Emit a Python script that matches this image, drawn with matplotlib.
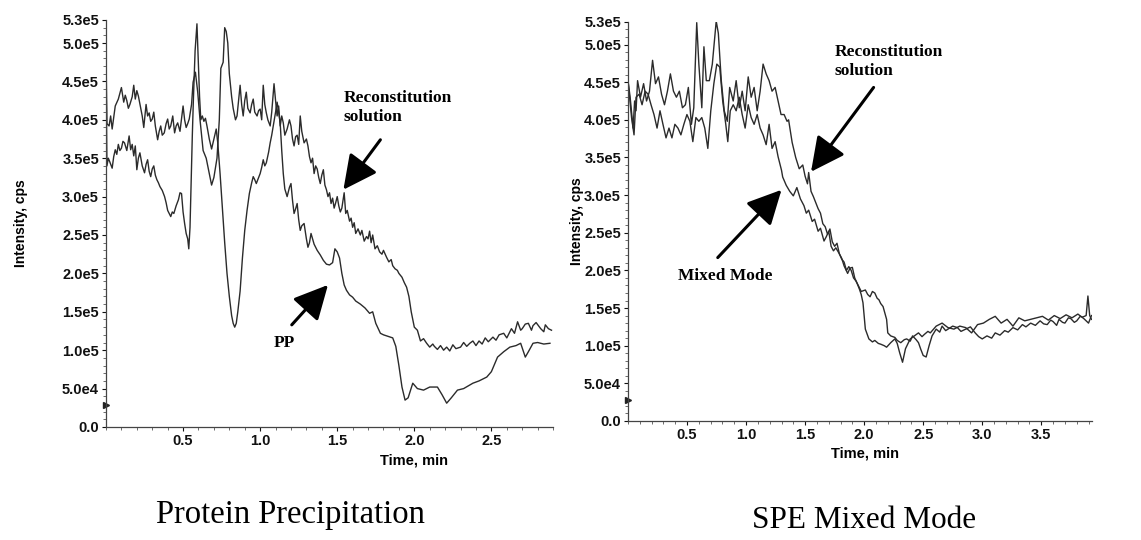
import matplotlib
matplotlib.use('Agg')
import matplotlib.pyplot as plt
import numpy as np
from matplotlib.ticker import FuncFormatter, MultipleLocator

# ---- left panel: protein precipitation (time in min, intensity in kcps) ----
pp_recon_t = [0.000, 0.006, 0.02, 0.03, 0.04, 0.06, 0.08, 0.10, 0.115, 0.125, 0.135, 0.145, 0.155, 0.17, 0.18,
              0.19, 0.20, 0.21, 0.225, 0.235, 0.245, 0.26, 0.27, 0.28, 0.29, 0.30, 0.31, 0.32, 0.335, 0.345,
              0.355, 0.365, 0.378, 0.39, 0.40, 0.41, 0.42, 0.433, 0.445, 0.455, 0.465, 0.48, 0.50, 0.51, 0.52,
              0.53, 0.54, 0.555, 0.565, 0.58, 0.595, 0.61, 0.63, 0.65, 0.67, 0.685, 0.70, 0.72, 0.735, 0.745,
              0.76, 0.77, 0.78, 0.79, 0.80, 0.815, 0.825, 0.84, 0.85, 0.87, 0.88, 0.89, 0.90, 0.91, 0.92,
              0.935, 0.945, 0.955, 0.965, 0.98, 0.99, 1.00, 1.01, 1.02, 1.03, 1.04, 1.05, 1.065, 1.075, 1.09,
              1.10, 1.11, 1.12, 1.13, 1.14, 1.15, 1.16, 1.175, 1.19, 1.20, 1.21, 1.22, 1.23, 1.24, 1.25,
              1.26, 1.27, 1.285, 1.30, 1.31, 1.32, 1.33, 1.34, 1.35, 1.36, 1.37, 1.38, 1.39, 1.40, 1.41,
              1.42, 1.43, 1.44, 1.45, 1.46, 1.47, 1.48, 1.49, 1.50, 1.51, 1.52, 1.53, 1.545, 1.555, 1.565,
              1.58, 1.59, 1.60, 1.61, 1.62, 1.635, 1.65, 1.66, 1.675, 1.69, 1.70, 1.71, 1.72, 1.73, 1.745,
              1.76, 1.775, 1.79, 1.80, 1.82, 1.835, 1.85, 1.86, 1.875, 1.89, 1.90, 1.92, 1.935, 1.95, 1.965,
              1.98, 1.99, 2.00, 2.02, 2.04, 2.06, 2.08, 2.10, 2.12, 2.13, 2.15, 2.17, 2.19, 2.21, 2.23,
              2.25, 2.27, 2.30, 2.32, 2.34, 2.36, 2.38, 2.40, 2.42, 2.44, 2.46, 2.48, 2.51, 2.53, 2.55,
              2.58, 2.60, 2.63, 2.65, 2.67, 2.69, 2.70, 2.72, 2.74, 2.76, 2.77, 2.79, 2.82, 2.84, 2.85,
              2.87, 2.89]
pp_recon_v = [485, 395, 392, 405, 388, 418, 427, 442, 423, 432, 425, 415, 420, 430, 445,
              427, 438, 431, 415, 405, 390, 420, 405, 409, 398, 401, 410, 392, 374, 385,
              392, 380, 383, 395, 401, 388, 392, 405, 383, 392, 396, 385, 418, 400, 390,
              395, 401, 420, 449, 462, 436, 400, 360, 350, 330, 315, 325, 350, 400, 467,
              475, 520, 515, 500, 460, 430, 415, 400, 405, 445, 420, 405, 425, 436, 415,
              409, 420, 427, 410, 405, 412, 414, 400, 445, 420, 409, 400, 392, 410, 447,
              425, 405, 418, 392, 405, 396, 380, 388, 400, 392, 375, 366, 378, 380, 368,
              405, 385, 370, 375, 366, 352, 344, 350, 330, 340, 336, 325, 317, 328, 335,
              315, 309, 300, 305, 291, 298, 285, 292, 300, 288, 280, 285, 305, 278, 282,
              268, 272, 260, 266, 252, 258, 250, 256, 242, 248, 245, 255, 240, 250, 232,
              236, 228, 225, 230, 221, 215, 218, 210, 206, 204, 200, 195, 188, 182, 170,
              150, 140, 130, 126, 112, 115, 109, 104, 108, 105, 101, 106, 100, 104, 99,
              107, 102, 104, 110, 105, 109, 112, 106, 112, 108, 116, 111, 117, 113, 120,
              122, 116, 128, 122, 137, 126, 128, 134, 135, 126, 132, 136, 128, 124, 133,
              128, 126]

pp_t = [0.000, 0.006, 0.015, 0.025, 0.04, 0.05, 0.06, 0.07, 0.08, 0.09, 0.10, 0.11, 0.12, 0.135, 0.15,
        0.16, 0.17, 0.18, 0.19, 0.20, 0.21, 0.22, 0.235, 0.25, 0.26, 0.27, 0.28, 0.29, 0.30, 0.31,
        0.32, 0.33, 0.34, 0.35, 0.365, 0.38, 0.39, 0.40, 0.41, 0.42, 0.43, 0.44, 0.455, 0.47, 0.48,
        0.49, 0.50, 0.51, 0.52, 0.53, 0.537, 0.545, 0.552, 0.56, 0.567, 0.578, 0.59, 0.60, 0.607, 0.615,
        0.625, 0.635, 0.645, 0.655, 0.67, 0.685, 0.70, 0.715, 0.725, 0.74, 0.755, 0.77, 0.785, 0.80, 0.815,
        0.825, 0.835, 0.845, 0.855, 0.87, 0.885, 0.90, 0.915, 0.93, 0.945, 0.955, 0.965, 0.975, 0.99, 1.00,
        1.01, 1.02, 1.03, 1.04, 1.055, 1.065, 1.075, 1.085, 1.10, 1.11, 1.12, 1.13, 1.14, 1.15, 1.16,
        1.175, 1.19, 1.20, 1.21, 1.22, 1.23, 1.24, 1.25, 1.26, 1.27, 1.285, 1.30, 1.31, 1.32, 1.33,
        1.35, 1.37, 1.39, 1.41, 1.43, 1.45, 1.47, 1.485, 1.50, 1.515, 1.53, 1.545, 1.56, 1.58, 1.60,
        1.62, 1.65, 1.68, 1.71, 1.73, 1.75, 1.78, 1.80, 1.83, 1.86, 1.88, 1.90, 1.92, 1.94, 1.96,
        1.99, 2.02, 2.06, 2.10, 2.15, 2.18, 2.21, 2.24, 2.28, 2.32, 2.38, 2.42, 2.47, 2.50, 2.54,
        2.58, 2.62, 2.66, 2.69, 2.72, 2.74, 2.77, 2.80, 2.84, 2.88]
pp_v = [470, 340, 350, 345, 337, 352, 361, 355, 368, 360, 363, 372, 370, 360, 379,
        361, 368, 353, 366, 335, 350, 357, 340, 331, 342, 348, 333, 326, 336, 340,
        328, 322, 318, 313, 308, 300, 292, 282, 278, 274, 280, 278, 288, 296, 305,
        304, 280, 265, 252, 245, 232, 260, 317, 380, 427, 490, 525, 470, 430, 400,
        405, 398, 402, 392, 375, 362, 375, 388, 370, 330, 285, 240, 200, 170, 145,
        135, 130, 135, 150, 177, 220, 256, 282, 304, 318, 326, 322, 317, 325, 330,
        338, 348, 340, 344, 358, 370, 380, 392, 410, 423, 410, 396, 360, 330, 310,
        300, 312, 317, 295, 278, 284, 291, 270, 256, 262, 265, 245, 234, 240, 252,
        238, 230, 224, 217, 212, 211, 214, 232, 228, 220, 200, 185, 178, 172, 169,
        164, 160, 155, 148, 150, 135, 122, 120, 118, 116, 105, 80, 52, 35, 38,
        57, 50, 48, 52, 52, 42, 31, 38, 48, 50, 57, 60, 65, 72, 91,
        98, 104, 106, 109, 91, 98, 109, 110, 108, 109]

# ---- right panel: SPE mixed mode ----
spe_recon_t = [0.000, 0.018, 0.043, 0.056, 0.068, 0.081, 0.106, 0.132, 0.157, 0.182, 0.208, 0.233, 0.258, 0.284,
               0.309, 0.334, 0.359, 0.385, 0.41, 0.435, 0.461, 0.486, 0.511, 0.537, 0.557, 0.582, 0.60, 0.625,
               0.643, 0.663, 0.689, 0.714, 0.747, 0.765, 0.79, 0.815, 0.841, 0.861, 0.891, 0.916, 0.942, 0.967,
               0.992, 1.018, 1.043, 1.068, 1.094, 1.119, 1.144, 1.17, 1.195, 1.22, 1.246, 1.271, 1.296, 1.322,
               1.347, 1.36, 1.39, 1.42, 1.45, 1.48, 1.50, 1.52, 1.53, 1.55, 1.57, 1.59, 1.61, 1.63,
               1.65, 1.67, 1.69, 1.71, 1.73, 1.75, 1.77, 1.79, 1.81, 1.83, 1.85, 1.87, 1.89, 1.91,
               1.93, 1.95, 1.975, 2.01, 2.03, 2.05, 2.07, 2.09, 2.11, 2.125, 2.14, 2.16, 2.19, 2.20,
               2.225, 2.26, 2.28, 2.31, 2.34, 2.36, 2.39, 2.41, 2.44, 2.46, 2.48, 2.50, 2.525, 2.55,
               2.575, 2.61, 2.64, 2.66, 2.69, 2.71, 2.75, 2.79, 2.82, 2.86, 2.90, 2.94, 2.97, 3.00,
               3.04, 3.08, 3.11, 3.15, 3.19, 3.22, 3.26, 3.30, 3.34, 3.37, 3.41, 3.45, 3.49, 3.52,
               3.55, 3.58, 3.60, 3.63, 3.65, 3.68, 3.70, 3.73, 3.75, 3.78, 3.80, 3.83, 3.85, 3.88,
               3.895, 3.91, 3.925]
spe_recon_v = [452, 430, 389, 425, 412, 452, 430, 448, 425, 438, 479, 448, 457, 434,
               420, 438, 461, 438, 430, 438, 416, 420, 443, 394, 416, 529, 474, 416,
               497, 452, 452, 474, 531, 515, 452, 412, 398, 443, 425, 452, 416, 438,
               412, 457, 430, 443, 412, 438, 474, 461, 452, 438, 443, 425, 407, 407,
               398, 400, 370, 350, 335, 340, 325, 315, 330, 305, 298, 290, 282, 276,
               262, 258, 248, 255, 238, 232, 236, 222, 215, 211, 200, 205, 200, 190,
               186, 180, 172, 174, 168, 165, 172, 170, 163, 161, 156, 152, 135, 117,
               113, 111, 107, 104, 108, 109, 106, 113, 108, 104, 95, 87, 85, 100,
               113, 122, 118, 126, 120, 122, 126, 124, 119, 122, 125, 117, 112, 109,
               113, 110, 117, 114, 120, 118, 124, 121, 128, 125, 130, 127, 133, 129,
               128, 134, 132, 127, 135, 131, 130, 137, 136, 131, 133, 139, 138, 140,
               166, 140, 135]

spe_mix_t = [0.000, 0.03, 0.051, 0.068, 0.094, 0.119, 0.145, 0.170, 0.195, 0.22, 0.246, 0.271, 0.296, 0.322,
             0.347, 0.372, 0.397, 0.423, 0.448, 0.473, 0.499, 0.524, 0.549, 0.575, 0.6, 0.625, 0.65, 0.676,
             0.701, 0.727, 0.752, 0.777, 0.802, 0.828, 0.845, 0.866, 0.891, 0.916, 0.942, 0.967, 0.992, 1.018,
             1.043, 1.068, 1.094, 1.119, 1.144, 1.17, 1.195, 1.22, 1.246, 1.271, 1.30, 1.31, 1.34, 1.37,
             1.40, 1.43, 1.46, 1.49, 1.51, 1.53, 1.56, 1.58, 1.61, 1.63, 1.66, 1.68, 1.70, 1.72,
             1.74, 1.76, 1.79, 1.81, 1.83, 1.86, 1.88, 1.90, 1.92, 1.94, 1.96, 1.975, 1.99, 2.01,
             2.04, 2.07, 2.09, 2.12, 2.14, 2.17, 2.19, 2.225, 2.26, 2.28, 2.30, 2.325, 2.35, 2.39,
             2.425, 2.46, 2.49, 2.51, 2.54, 2.56, 2.61, 2.66, 2.71, 2.76, 2.81, 2.86, 2.91, 2.96,
             3.01, 3.06, 3.11, 3.16, 3.21, 3.26, 3.31, 3.36, 3.41, 3.46, 3.51, 3.56, 3.61, 3.66,
             3.71, 3.76, 3.81, 3.86, 3.90, 3.925]
spe_mix_v = [452, 403, 380, 430, 434, 420, 438, 434, 420, 407, 389, 412, 394, 376,
             389, 376, 394, 389, 380, 394, 407, 398, 371, 403, 398, 403, 389, 362,
             412, 448, 474, 470, 425, 394, 371, 412, 420, 412, 430, 407, 389, 420,
             403, 394, 407, 389, 380, 367, 394, 362, 371, 351, 333, 324, 313, 305,
             299, 310, 295, 286, 276, 280, 265, 268, 252, 256, 239, 245, 252, 232,
             226, 230, 222, 216, 206, 196, 203, 204, 190, 183, 175, 168, 157, 122,
             109, 105, 107, 103, 102, 100, 98, 104, 109, 103, 91, 78, 96, 109,
             113, 117, 112, 115, 119, 117, 126, 130, 124, 122, 126, 124, 117, 128,
             130, 135, 139, 130, 135, 126, 137, 133, 135, 137, 139, 134, 140, 136,
             141, 137, 142, 136, 130, 140]

pp_ticks_x = [0.5, 1.0, 1.5, 2.0, 2.5]
spe_ticks_x = [0.5, 1.0, 1.5, 2.0, 2.5, 3.0, 3.5]
ticks_y = [0, 5e4, 1e5, 1.5e5, 2e5, 2.5e5, 3e5, 3.5e5, 4e5, 4.5e5, 5e5, 5.3e5]

sans = 'Liberation Sans'
serif = 'Liberation Serif'
line_color = '#2b2b2b'


def sci_label(v, pos=None):
    if v == 0:
        return '0.0'
    exp = int(np.floor(np.log10(abs(v))))
    return f'{v / 10 ** exp:.1f}e{exp}'


def style_axes(ax, xmax, xticks, xlabel_pos):
    ax.set_xlim(0, xmax)
    ax.set_ylim(0, 5.3e5)
    ax.set_xticks(xticks)
    ax.set_xticklabels([f'{x:.1f}' for x in xticks])
    ax.set_yticks(ticks_y)
    ax.yaxis.set_major_formatter(FuncFormatter(sci_label))
    ax.yaxis.set_minor_locator(MultipleLocator(1e4))
    ax.xaxis.set_minor_locator(MultipleLocator(0.1))
    for side in ('top', 'right'):
        ax.spines[side].set_visible(False)
    for side in ('left', 'bottom'):
        ax.spines[side].set_linewidth(0.9)
        ax.spines[side].set_color('#444')
    ax.tick_params(which='major', length=3, width=0.8, pad=2, colors='#111')
    ax.tick_params(which='minor', length=2, width=0.6, colors='#555')
    for lab in ax.get_xticklabels() + ax.get_yticklabels():
        lab.set_fontfamily(sans)
        lab.set_fontweight('bold')
        lab.set_fontsize(10.5)
    ax.set_ylabel('Intensity, cps', family=sans, weight='bold', fontsize=10)
    ax.set_xlabel('Time, min', family=sans, weight='bold', fontsize=10.5)
    ax.xaxis.set_label_coords(*xlabel_pos)
    ax.plot([0], [2.8e4], marker='>', ms=4, color='#222', clip_on=False)


fig = plt.figure(figsize=(11.41, 5.4), dpi=100)

arrow = dict(arrowstyle='-|>,head_length=1.1,head_width=0.55', lw=2.2, color='k', mutation_scale=19,
             shrinkA=0, shrinkB=0)

ax1 = fig.add_axes([0.0929, 0.2093, 0.3918, 0.7537])
ax1.plot(np.array(pp_recon_t), np.array(pp_recon_v) * 1e3, color=line_color, lw=1.0)
ax1.plot(np.array(pp_t), np.array(pp_v) * 1e3, color=line_color, lw=1.0)
style_axes(ax1, 2.9, pp_ticks_x, (0.69, -0.064))
ax1.yaxis.set_label_coords(-0.175, 0.5)
ax1.text(1.54, 4.16e5, 'Reconstitution\nsolution', family=serif, weight='bold', fontsize=12.5,
         ha='left', va='center', linespacing=1.25)
ax1.annotate('', xy=(1.54, 3.09e5), xytext=(1.78, 3.74e5), arrowprops=arrow)
ax1.text(1.16, 1.09e5, 'PP', family=serif, weight='bold', fontsize=12.5, ha='center', va='center')
ax1.annotate('', xy=(1.44, 1.85e5), xytext=(1.205, 1.33e5), arrowprops=arrow)

ax2 = fig.add_axes([0.5504, 0.2204, 0.4067, 0.739])
ax2.plot(np.array(spe_recon_t), np.array(spe_recon_v) * 1e3, color=line_color, lw=1.0)
ax2.plot(np.array(spe_mix_t), np.array(spe_mix_v) * 1e3, color=line_color, lw=1.0)
style_axes(ax2, 3.93, spe_ticks_x, (0.51, -0.065))
ax2.yaxis.set_label_coords(-0.095, 0.5)
ax2.text(1.75, 4.78e5, 'Reconstitution\nsolution', family=serif, weight='bold', fontsize=12.5,
         ha='left', va='center', linespacing=1.25)
ax2.annotate('', xy=(1.55, 3.31e5), xytext=(2.08, 4.43e5), arrowprops=arrow)
ax2.text(0.82, 1.93e5, 'Mixed Mode', family=serif, weight='bold', fontsize=12.5, ha='center', va='center')
ax2.annotate('', xy=(1.30, 3.07e5), xytext=(0.76, 2.17e5), arrowprops=arrow)

fig.text(290 / 1141, 1 - 515 / 540, 'Protein Precipitation', family=serif, fontsize=23.5,
         ha='center', va='center')
fig.text(864 / 1141, 1 - 520 / 540, 'SPE Mixed Mode', family=serif, fontsize=22.5,
         ha='center', va='center')

fig.savefig('out.png', dpi=100)
